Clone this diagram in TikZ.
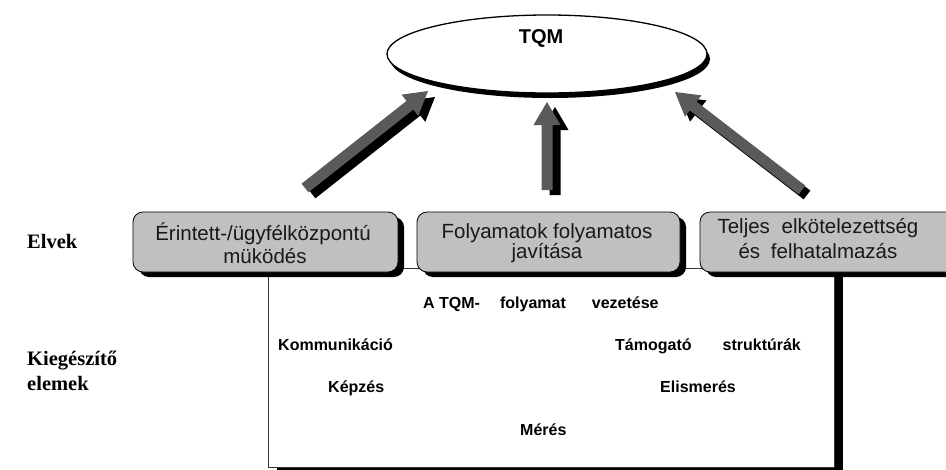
\documentclass[tikz,border=0pt]{standalone}
\usepackage{fontspec}
\setmainfont{Liberation Serif}
\newfontfamily\arialf{Liberation Sans}
\usetikzlibrary{calc,shadows,shapes.geometric}
\definecolor{boxgray}{HTML}{C0C0C0}
\definecolor{arrowgray}{HTML}{5A5A5A}
\newcommand\fatarrowpoly[3]{%
  \coordinate (fa-h) at ($(#2)!23pt!(#1)$);
  \fill[#3] ($(#1)!5.5pt!90:(#2)$) -- ($(fa-h)!5.5pt!90:(#2)$) -- ($(fa-h)!13.5pt!90:(#2)$) -- (#2)
    -- ($(fa-h)!13.5pt!-90:(#2)$) -- ($(fa-h)!5.5pt!-90:(#2)$) -- ($(#1)!5.5pt!-90:(#2)$) -- cycle;
}
\tikzset{
  pbox/.style={draw=black, line width=0.8pt, fill=boxgray, rounded corners=10pt, inner sep=0pt,
    drop shadow={shadow xshift=6pt, shadow yshift=-5pt, fill=black, opacity=1}},
  frame/.style={draw=black!80, line width=1pt, fill=white, inner sep=0pt,
    drop shadow={shadow xshift=9pt, shadow yshift=-9pt, fill=black, opacity=1}},
  boxtxt/.style={inner sep=0pt, anchor=base, font=\arialf\fontsize{20.5}{20.5}\selectfont, text=black!90},
  elemtxt/.style={inner sep=0pt, anchor=base west, font=\arialf\bfseries\fontsize{16}{16}\selectfont},
  sidetxt/.style={inner sep=0pt, anchor=base west, font=\bfseries\fontsize{20.5}{20.5}\selectfont}
}
\begin{document}
\begin{tikzpicture}[x=1pt,y=-1pt]
\useasboundingbox (0,0) rectangle (946,469);

% lower frame
\node[frame, minimum width=566pt, minimum height=199pt] (frame) at (551,367.5) {};

% principle boxes
\node[pbox, minimum width=265pt, minimum height=60pt] (b1) at (265.5,242) {};
\node[pbox, minimum width=263pt, minimum height=60pt] (b2) at (548.5,242) {};
\node[pbox, minimum width=270pt, minimum height=60pt] (b3) at (835,242) {};

\node[boxtxt] (b1a) at (263,240) {Érintett-/ügyfélközpontú};
\node[boxtxt] (b1b) at (265,263) {müködés};
\node[boxtxt] (b2a) at (547,238) {Folyamatok folyamatos};
\node[boxtxt] (b2b) at (547,258) {javítása};
\node[boxtxt] (b3a) at (818,233) {Teljes\hspace{6pt} elkötelezettség};
\node[boxtxt] (b3b) at (818,258) {és\hspace{5pt} felhatalmazás};

% TQM ellipse
\fill[black] (550,59) ellipse [x radius=160, y radius=39];
\node[draw=black, line width=1.3pt, fill=white, ellipse, inner sep=0pt, minimum width=320pt, minimum height=78pt] (tqm) at (547,54) {};
\node[inner sep=0pt, anchor=base, font=\arialf\bfseries\fontsize{20}{20}\selectfont] (tqmt) at (541,43) {TQM};

% arrows
\coordinate (lt) at (305,188);  \coordinate (lh) at (428,91);
\coordinate (mt) at (547,190);  \coordinate (mh) at (547,102);
\coordinate (rt) at (802,190);  \coordinate (rh) at (675,92);
\coordinate (lts) at ($(lt)+(7,6)$); \coordinate (lhs) at ($(lh)+(7,6)$);
\coordinate (mts) at ($(mt)+(8,5)$); \coordinate (mhs) at ($(mh)+(8,5)$);
\coordinate (rts) at ($(rt)+(5,5)$); \coordinate (rhs) at ($(rh)+(5,5)$);
\fatarrowpoly{lts}{lhs}{black}
\fatarrowpoly{lt}{lh}{arrowgray}
\fatarrowpoly{mts}{mhs}{black}
\fatarrowpoly{mt}{mh}{arrowgray}
\fatarrowpoly{rts}{rhs}{black}
\fatarrowpoly{rt}{rh}{arrowgray}

% side labels
\node[sidetxt] (elvek) at (27,248) {Elvek};
\node[sidetxt] (kieg1) at (27,365) {Kiegészítő};
\node[sidetxt] (kieg2) at (27,390) {elemek};

% supplementary elements
\node[elemtxt] (e1) at (423,308) {A TQM-\hspace{20pt}folyamat\hspace{26pt}vezetése};
\node[elemtxt] (e2) at (278,350) {Kommunikáció};
\node[elemtxt] (e3) at (615,350) {Támogató\hspace{31pt}struktúrák};
\node[elemtxt] (e4) at (328,392) {Képzés};
\node[elemtxt] (e5) at (660,392) {Elismerés};
\node[elemtxt] (e6) at (520,435) {Mérés};
\end{tikzpicture}
\end{document}
